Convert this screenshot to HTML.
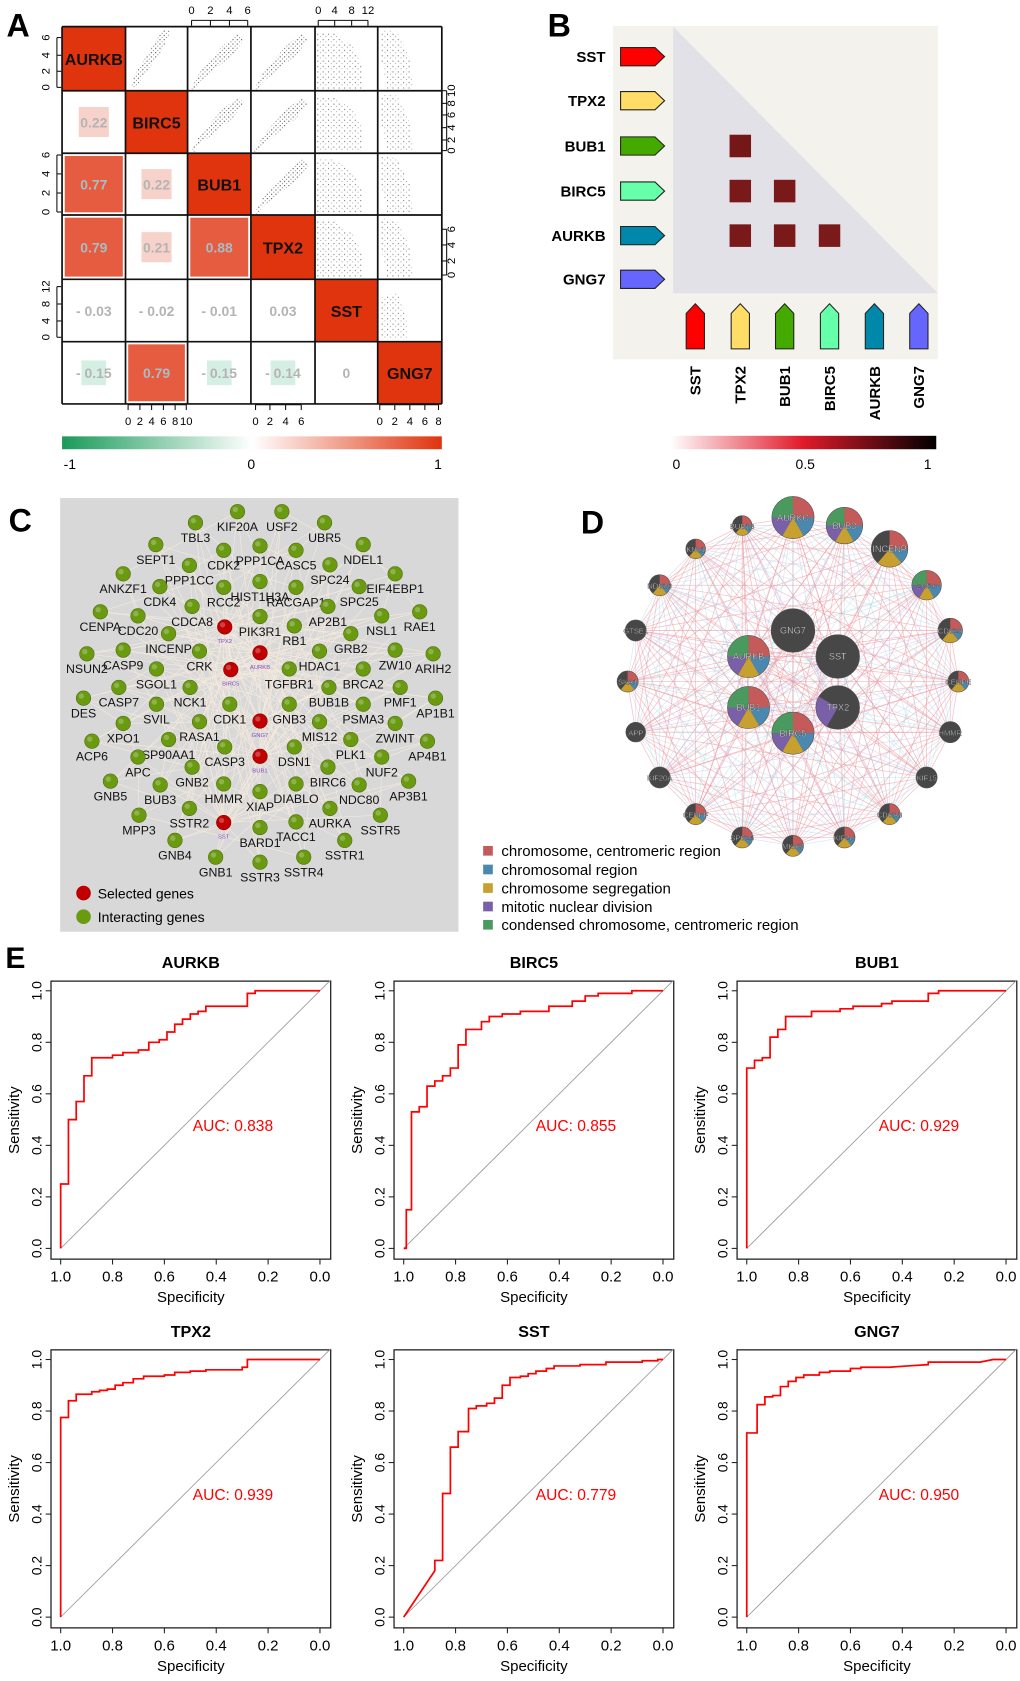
<!DOCTYPE html>
<html><head><meta charset="utf-8"><style>
html,body{margin:0;padding:0;background:#fff;}
svg{display:block;font-family:"Liberation Sans",sans-serif;}
.n{font-family:"Liberation Sans Narrow","Liberation Sans",sans-serif;}
</style></head><body>
<svg id="fig" xmlns="http://www.w3.org/2000/svg" width="1020" height="1681" viewBox="0 0 950 1566" preserveAspectRatio="none">
<defs>
<pattern id="dots" width="4" height="4" patternUnits="userSpaceOnUse"><circle cx="1" cy="1" r="0.55" fill="#222"/><circle cx="3" cy="3" r="0.45" fill="#333"/></pattern>
<pattern id="dotsL" width="5" height="5" patternUnits="userSpaceOnUse"><circle cx="1" cy="2" r="0.5" fill="#333"/><circle cx="3.5" cy="4" r="0.4" fill="#444"/></pattern>
<linearGradient id="gA" x1="0" x2="1"><stop offset="0" stop-color="#1a9a5a"/><stop offset="0.5" stop-color="#ffffff"/><stop offset="1" stop-color="#e0340e"/></linearGradient>
<linearGradient id="gB" x1="0" x2="1"><stop offset="0" stop-color="#ffffff"/><stop offset="0.5" stop-color="#e01a2a"/><stop offset="1" stop-color="#000000"/></linearGradient>
</defs>
<g id="A"></g>
<g id="B"></g>
<g id="C"></g>
<g id="D"></g>
<g id="E"></g>
</svg>
<script>
const NS='http://www.w3.org/2000/svg';
function mk(tag,attrs,parent,txt){const e=document.createElementNS(NS,tag);for(const k in attrs)e.setAttribute(k,attrs[k]);if(txt!==undefined)e.textContent=txt;parent.appendChild(e);return e;}

// ---------- Panel A data ----------
const genesA=['AURKB','BIRC5','BUB1','TPX2','SST','GNG7'];
const corrRows=[1,2,2,3,3,3,4,4,4,4,5,5,5,5,5];
const corrCols=[0,0,1,0,1,2,0,1,2,3,0,1,2,3,4];
const corrVals=[0.22,0.77,0.22,0.79,0.21,0.88,-0.03,-0.02,-0.01,0.03,-0.15,0.79,-0.15,-0.14,0];
// ---------- Panel B data ----------
const genesB=['SST','TPX2','BUB1','BIRC5','AURKB','GNG7'];
const colorsB=['#ff0000','#ffdd66','#44aa00','#66ffaa','#0088aa','#6666ff'];
const sigRows=[2,3,3,4,4,4];
const sigCols=[1,1,2,1,2,3];
const sigVals=[0.9,0.85,0.85,0.85,0.85,0.82];
// ---------- Panel E data ----------
const rocTitles=['AURKB','BIRC5','BUB1','TPX2','SST','GNG7'];
const rocAUC=['0.838','0.855','0.929','0.939','0.779','0.950'];
const aurkbSpec=[1,1,.97,.97,.94,.94,.91,.91,.88,.88,.80,.80,.76,.76,.70,.70,.66,.66,.62,.62,.59,.59,.56,.56,.53,.53,.50,.50,.47,.47,.44,.44,.28,.28,.25,.25,0];
const aurkbSens=[0,.25,.25,.50,.50,.57,.57,.67,.67,.74,.74,.75,.75,.76,.76,.77,.77,.80,.80,.81,.81,.84,.84,.87,.87,.89,.89,.91,.91,.92,.92,.94,.94,.99,.99,1,1];
const birc5Spec=[1,.99,.99,.97,.97,.94,.94,.91,.91,.88,.88,.85,.85,.82,.82,.79,.79,.76,.76,.70,.70,.67,.67,.62,.62,.55,.55,.44,.44,.35,.35,.30,.30,.25,.25,.12,.12,0];
const birc5Sens=[0,0,.15,.15,.53,.53,.55,.55,.63,.63,.65,.65,.67,.67,.70,.70,.79,.79,.85,.85,.88,.88,.90,.90,.91,.91,.92,.92,.94,.94,.96,.96,.98,.98,.99,.99,1,1];
const bub1Spec=[1,1,.97,.97,.94,.94,.91,.91,.88,.88,.85,.85,.75,.75,.64,.64,.59,.59,.48,.48,.44,.44,.30,.30,.26,.26,0];
const bub1Sens=[0,.70,.70,.73,.73,.74,.74,.82,.82,.85,.85,.90,.90,.92,.92,.93,.93,.94,.94,.95,.95,.96,.96,.99,.99,1,1];
const tpx2Spec=[1,1,.97,.97,.94,.94,.88,.88,.85,.85,.82,.82,.79,.79,.76,.76,.72,.72,.68,.68,.6,.6,.56,.56,.5,.5,.44,.44,.3,.3,.28,.28,0];
const tpx2Sens=[0,.775,.775,.84,.84,.865,.865,.875,.875,.88,.88,.885,.885,.90,.90,.91,.91,.925,.925,.935,.935,.94,.94,.95,.95,.955,.955,.96,.96,.97,.97,1,1];
const sstSpec=[1,.88,.88,.85,.85,.82,.82,.79,.79,.75,.75,.72,.72,.68,.68,.65,.65,.62,.62,.59,.59,.55,.55,.52,.52,.49,.49,.45,.45,.42,.42,.32,.32,.22,.22,.08,.08,.02,.02,0];
const sstSens=[0,.18,.22,.22,.48,.48,.66,.66,.72,.72,.81,.81,.82,.82,.83,.83,.85,.85,.90,.90,.93,.93,.935,.935,.945,.945,.955,.955,.965,.965,.975,.975,.98,.98,.99,.99,.995,.995,1,1];
const gng7Spec=[1,1,.96,.96,.93,.93,.9,.9,.87,.87,.84,.84,.81,.81,.78,.78,.72,.72,.68,.68,.6,.6,.56,.56,.45,.38,.3,.3,.1,.05,0];
const gng7Sens=[0,.715,.715,.825,.825,.855,.855,.86,.86,.895,.895,.915,.915,.93,.93,.94,.94,.95,.95,.955,.955,.965,.965,.97,.97,.975,.98,.99,.99,1,1];
const rocSpecs=[aurkbSpec,birc5Spec,bub1Spec,tpx2Spec,sstSpec,gng7Spec];
const rocSenss=[aurkbSens,birc5Sens,bub1Sens,tpx2Sens,sstSens,gng7Sens];
const rocTicks=[1.0,0.8,0.6,0.4,0.2,0.0];

const svg=document.getElementById('fig');
function panelLabel(g,t,x,y,size){const e=mk('text',{x:x,y:y,'font-size':size,'font-weight':'bold'},g,t);

}

// ================= Panel A =================
(function(){
const g=document.getElementById('A');
panelLabel(g,'A',6,34,30);
const xs=[57.8,116.9,174.7,233.7,293.4,351.8,411.5];
const ys=[24.8,84.5,142.8,200.3,260.2,318.3,376.3];
// cells bg
for(let r=0;r<6;r++)for(let c=0;c<6;c++){
 const x0=xs[c],y0=ys[r],w=xs[c+1]-xs[c],h=ys[r+1]-ys[r];
 if(r===c){const rc=mk('rect',{x:x0,y:y0,width:w,height:h,fill:'#e0340e'},g);
  
  
  const t=mk('text',{x:x0+w/2,y:y0+h/2+6,'text-anchor':'middle','font-size':15,'font-weight':'bold',fill:'#111'},g,genesA[r]);
  
  
 } else if(c>r){
  // scatter texture
  let pts;
  if(c<=3){ if(r===0&&c===1) pts=[[.08,.98],[.15,.75],[.5,.2],[.62,.03],[.72,.08],[.6,.35],[.2,.9]];
   else pts=[[.05,.98],[.2,.7],[.55,.3],[.8,.1],[.9,.2],[.7,.45],[.2,.85],[.1,.98]]; }
  else if(c===4) pts=[[.02,.08],[.3,.1],[.6,.3],[.75,.6],[.75,.97],[.02,.97]];
  else pts=(r===4)?[[.05,.3],[.3,.2],[.45,.6],[.45,.97],[.05,.97]]:[[.05,.05],[.3,.08],[.5,.5],[.55,.97],[.15,.97],[.05,.5]];
  const poly=mk('polygon',{points:pts.map(p=>(x0+p[0]*w)+','+(y0+p[1]*h)).join(' '),fill:c>=4?'url(#dotsL)':'url(#dots)',opacity:0.85},g);
  
  
 }
}
// correlation values
for(let i=0;i<corrVals.length;i++){
 const r=corrRows[i],c=corrCols[i],v=corrVals[i];
 const x0=xs[c],y0=ys[r],w=xs[c+1]-xs[c],h=ys[r+1]-ys[r],cx=x0+w/2,cy=y0+h/2;
 const a=Math.abs(v);
 if(a>=0.1){
  const sz=a>0.5?w-5:(a>=0.2?28:23);
  const col=v>0?(a>0.5?'#e55c40':'#f7d2ca'):'#d6efe4';
  const rc=mk('rect',{x:cx-sz/2,y:cy-(a>0.5?h-5:sz)/2,width:sz,height:a>0.5?h-5:sz,fill:col},g);
  
  
 }
 const lab=(v<0?'- ':'')+(v===0?'0':Math.abs(v).toFixed(2));
 const t=mk('text',{x:cx,y:cy+5,'text-anchor':'middle','font-size':13,'font-weight':'bold',fill:a>0.5?'#a9bcc4':'#b4b4b4'},g,lab);
 
 
}
// grid lines
for(const x of xs){mk('line',{x1:x,y1:ys[0],x2:x,y2:ys[6],stroke:'#111','stroke-width':1.6},g);}
for(const y of ys){mk('line',{x1:xs[0],y1:y,x2:xs[6],y2:y,stroke:'#111','stroke-width':1.6},g);}
// axes ticks
function vt(labels,ysP,side,row){const xl=side==='L'?53:416;const ax=mk('g',{},g);
 
 mk('line',{x1:xl,y1:ysP[0],x2:xl,y2:ysP[ysP.length-1],stroke:'#111','stroke-width':1},ax);
 labels.forEach((l,i)=>{const y=ysP[i];mk('line',{x1:xl,y1:y,x2:side==='L'?xl+4:xl-4,y2:y,stroke:'#111'},ax);
  mk('text',{x:0,y:0,transform:`translate(${side==='L'?46:424},${y}) rotate(-90)`,'text-anchor':'middle','font-size':10.5,'class':'n'},ax,l);});}
vt(['0','2','4','6'],[81.4,66.4,51.5,35],'L',1);
vt(['0','2','4','6'],[197.5,179.8,162,144.4],'L',3);
vt(['0','4','8','12'],[314.2,299,283.2,267],'L',5);
vt(['0','2','4','6','8','10'],[140.3,130.4,118.9,107.1,96.3,84.5],'R',2);
vt(['0','2','4','6'],[256.2,243.1,228.2,213.6],'R',4);
function ht(labels,xsP,side,col){const yl=side==='T'?19:377;const ax=mk('g',{},g);
 
 mk('line',{x1:xsP[0],y1:yl,x2:xsP[xsP.length-1],y2:yl,stroke:'#111'},ax);
 labels.forEach((l,i)=>{const x=xsP[i];mk('line',{x1:x,y1:yl,x2:x,y2:side==='T'?yl+5:yl+5,stroke:'#111'},ax);
  mk('text',{x:x,y:side==='T'?13:396,'text-anchor':'middle','font-size':10.5,'class':'n'},ax,l);});}
ht(['0','2','4','6'],[178.4,196,213.7,230.7],'T',3);
ht(['0','4','8','12'],[296.4,311.7,327.5,342.7],'T',5);
ht(['0','2','4','6','8','10'],[119.3,130.3,141.2,152.2,163.1,173.5],'B',2);
ht(['0','2','4','6'],[238,251.4,266,280.6],'B',4);
ht(['0','2','4','6','8'],[353.7,367.7,381.7,395.7,408.4],'B',6);
const cb=mk('rect',{x:57.8,y:406.5,width:353.7,height:12,fill:'url(#gA)'},g);

[['-1',65],['0',234],['1',408]].forEach(p=>{const t=mk('text',{x:p[1],y:437,'text-anchor':'middle','font-size':13,'class':'n'},g,p[0]);
 });
})();

// ================= Panel B =================
(function(){
const g=document.getElementById('B');
panelLabel(g,'B',510,34,30);
const bg=mk('rect',{x:571,y:24.2,width:302.5,height:310.5,fill:'#f4f2ed'},g);

const tri=mk('polygon',{points:'627,24.8 873.5,273.2 627,273.2',fill:'#e3e1e8'},g);

const rowY=[52.8,93.8,136,178,219.5,260.2];
const colX=[647.6,689.5,730.8,772.6,814.4,855.8];
genesB.forEach((n,i)=>{
 const y=rowY[i];
 const t=mk('text',{x:564,y:y+5,'text-anchor':'end','font-size':14,'font-weight':'bold','class':'n'},g,n);
 
 const a=mk('polygon',{points:`578,${y-8.5} 610,${y-8.5} 619,${y} 610,${y+8.5} 578,${y+8.5}`,fill:colorsB[i],stroke:'#222','stroke-width':1},g);
 
 const x=colX[i];
 const b=mk('polygon',{points:`${x-8.5},325 ${x-8.5},292 ${x},283 ${x+8.5},292 ${x+8.5},325`,fill:colorsB[i],stroke:'#222','stroke-width':1},g);
 
 const ct=mk('text',{x:0,y:0,transform:`translate(${x+5},341) rotate(-90)`,'text-anchor':'end','font-size':14,'font-weight':'bold'},g,n);
 
});
const cellW=colX[1]-colX[0];
sigVals.forEach((v,i)=>{
 const cx=colX[sigCols[i]],cy=rowY[sigRows[i]];
 const shade=Math.round(255*(1-v)*0.9);
 const s=mk('rect',{x:cx-10,y:cy-10.5,width:20,height:21,fill:`rgb(${110+shade/3|0},${20+shade/6|0},${20+shade/6|0})`},g);
 
 
});
const cb=mk('rect',{x:624,y:406,width:248,height:12.5,fill:'url(#gB)'},g);

[['0',630],['0.5',750],['1',864]].forEach(p=>{const t=mk('text',{x:p[1],y:437,'text-anchor':'middle','font-size':13,'class':'n'},g,p[0]);
 });
})();

// ================= Panel C =================
(function(){
const g=document.getElementById('C');
panelLabel(g,'C',8,495,30);
const bx=mk('rect',{x:56,y:464,width:371,height:404,fill:'#d8d8d8'},g);

const nodes=[['KIF20A',528,50],['USF2',660,50],['TBL3',403,83],['UBR5',787,83],['SEPT1',285,148],['CDK2',487,165],['PPP1CA',595,152],['CASC5',702,165],['NDEL1',902,148],['PPP1CC',385,210],['SPC24',803,208],['ANKZF1',188,235],['EIF4EBP1',997,235],['HIST1H3A',595,258],['RCC2',487,275],['RACGAP1',702,275],['CDK4',297,273],['SPC25',890,273],['CENPA',120,348],['RAE1',1070,348],['CDCA8',393,332],['AP2B1',797,332],['CDC20',232,360],['NSL1',957,360],['TPX2',490,393,1],['PIK3R1',595,362],['RB1',697,390],['AURKB',595,470,1],['INCENP',323,413],['GRB2',865,413],['NSUN2',80,473],['ARIH2',1110,473],['CASP9',188,462],['ZW10',997,462],['CRK',415,465],['HDAC1',772,465],['BIRC5',508,520,1],['TGFBR1',682,518],['SGOL1',287,518],['BRCA2',902,518],['DES',70,605],['AP1B1',1117,605],['CASP7',175,573],['PMF1',1012,573],['NCK1',387,573],['BUB1B',800,573],['SVIL',287,623],['PSMA3',902,623],['CDK1',505,623],['GNB3',682,623],['GNG7',595,673,1],['XPO1',188,680],['ZWINT',997,680],['RASA1',415,675],['MIS12',772,675],['ACP6',95,733],['AP4B1',1093,733],['SP90AA1',323,728],['PLK1',865,728],['CASP3',490,750],['DSN1',697,750],['BUB1',595,778,1],['APC',232,780],['NUF2',957,780],['GNB5',150,852],['AP3B1',1037,852],['GNB2',393,810],['BIRC6',797,810],['BUB3',298,863],['NDC80',890,863],['HMMR',487,860],['DIABLO',702,860],['XIAP',595,883],['MPP3',235,953],['SSTR5',953,953],['SSTR2',385,933],['AURKA',803,933],['SST',487,975,1],['BARD1',595,990],['TACC1',702,973],['GNB4',342,1028],['SSTR1',847,1028],['GNB1',463,1078],['SSTR3',595,1093],['SSTR4',725,1078]];
const px=z=>55.88+z*0.3131, py=z=>461.0+z*0.3131;
const sel=nodes.filter(n=>n[3]);
const eg=mk('g',{stroke:'#fbeede','stroke-width':0.6,opacity:0.8},g);

nodes.forEach((n,i)=>{if(n[3])return;const s1=sel[i%6],s2=sel[(i*7+3)%6];
 mk('line',{x1:px(n[1]),y1:py(n[2]),x2:px(s1[1]),y2:py(s1[2])},eg);
 mk('line',{x1:px(n[1]),y1:py(n[2]),x2:px(s2[1]),y2:py(s2[2])},eg);
 const n2=nodes[(i+11)%nodes.length];mk('line',{x1:px(n[1]),y1:py(n[2]),x2:px(n2[1]),y2:py(n2[2])},eg);});
nodes.forEach(n=>{
 const x=px(n[1]),y=py(n[2]);
 const c=mk('circle',{cx:x,cy:y,r:6.8,fill:n[3]?'#c00000':'#6a9a10',stroke:n[3]?'#800':'#4a6a08','stroke-width':0.5},g);
 
 mk('circle',{cx:x-2,cy:y-2,r:2.5,fill:'#fff',opacity:0.25},g);
 const t=mk('text',{x:x,y:n[3]?y+15:y+18,'text-anchor':'middle','font-size':n[3]?5.5:11.5,fill:n[3]?'#8a4cc0':'#111'},g,n[0]);
 
});
[['Selected genes','#c00000',832],['Interacting genes','#6a9a10',854]].forEach(p=>{
 const c=mk('circle',{cx:77.8,cy:p[2],r:6.8,fill:p[1]},g);
 
 const t=mk('text',{x:91,y:p[2]+5,'font-size':13},g,p[0]);
 
});
})();

// ================= Panel D =================
(function(){
const g=document.getElementById('D');
panelLabel(g,'D',541,497,30);
const px=z=>(470+z/2.836)/1.0737, py=z=>(480+z/3)/1.0737;
const nd=[['AURKC',916,113,60,'p'],['BUB3',1062,137,52,'p'],['INCENP',1190,207,52,'h'],['ZW10',1295,316,42,'p'],['CDC20',1362,452,35,'h'],['CENPE',1385,605,30,'h'],['HMMR',1362,757,30,'d'],['KIF15',1295,893,30,'d'],['CDCA8',1190,1003,30,'h'],['KIF2C',1062,1073,30,'h'],['MKI67',916,1098,30,'h'],['SPC25',772,1073,30,'h'],['CENPF',640,1003,30,'h'],['KIF20A',538,893,30,'d'],['APP',470,757,28,'d'],['SKA1',447,605,30,'h'],['GTSE1',470,452,30,'d'],['NDC80',538,316,30,'h'],['KNL1',640,207,28,'h'],['BUB1B',772,137,28,'h'],['GNG7',916,452,62,'d'],['SST',1043,530,62,'d'],['AURKB',790,530,60,'p'],['BUB1',790,683,60,'p'],['TPX2',1043,683,62,'t'],['BIRC5',916,760,60,'p']];
const eg=mk('g',{'stroke-width':0.7},g);

for(let i=0;i<nd.length;i++)for(let j=i+1;j<nd.length;j++){
 const k=(i*5+j*3)%7;
 mk('line',{x1:px(nd[i][1]),y1:py(nd[i][2]),x2:px(nd[j][1]),y2:py(nd[j][2]),stroke:k<4?'#eb8f98':(k<6?'#9fd0e0':'#c7a8e0'),opacity:k<4?0.55:0.4},eg);}
function slice(cx,cy,r,a0,a1,col,parent){const rad=a=>(a-90)*Math.PI/180;
 const x0=cx+r*Math.cos(rad(a0)),y0=cy+r*Math.sin(rad(a0)),x1=cx+r*Math.cos(rad(a1)),y1=cy+r*Math.sin(rad(a1));
 mk('path',{d:`M${cx},${cy} L${x0},${y0} A${r},${r} 0 ${a1-a0>180?1:0} 1 ${x1},${y1} Z`,fill:col},parent);}
nd.forEach(n=>{
 const x=px(n[1]),y=py(n[2]),r=n[3]/2.836/1.0737;
 const ng=mk('g',{},g);
 
 mk('circle',{cx:x,cy:y,r:r,fill:'#474747'},ng);
 if(n[4]==='p'){slice(x,y,r,0,90,'#c45a5a',ng);slice(x,y,r,90,150,'#4a88b0',ng);slice(x,y,r,150,210,'#c8a030',ng);slice(x,y,r,210,270,'#7a60a8',ng);slice(x,y,r,270,360,'#4a9a60',ng);}
 else if(n[4]==='h'){slice(x,y,r,0,90,'#c45a5a',ng);slice(x,y,r,90,140,'#4a88b0',ng);slice(x,y,r,140,220,'#c8a030',ng);}
 else if(n[4]==='t'){slice(x,y,r,210,300,'#7a60a8',ng);}
 mk('circle',{cx:x,cy:y,r:r,fill:'none',stroke:'#555','stroke-width':0.5},ng);
 const t=mk('text',{x:x,y:y+3,'text-anchor':'middle','font-size':r>15?8.5:7,fill:'#fff',stroke:'#333','stroke-width':0.3},ng,n[0]);
});
const leg=['chromosome, centromeric region','chromosomal region','chromosome segregation','mitotic nuclear division','condensed chromosome, centromeric region'];
const lc=['#c45a5a','#4a88b0','#c8a030','#7a60a8','#4a9a60'];
const ly=[792.6,810,827.3,844.5,861.5];
leg.forEach((l,i)=>{const r=mk('rect',{x:450,y:ly[i]-4.5,width:9,height:9,fill:lc[i]},g);
 
 const t=mk('text',{x:467,y:ly[i]+5,'font-size':14},g,l);
 });
})();

// ================= Panel E =================
(function(){
const g=document.getElementById('E');
panelLabel(g,'E',5,902,28);
for(let p=0;p<6;p++){
 const c=p%3,r=Math.floor(p/3);
 const L=47.5+319.5*c, T=914+343.5*r, R=L+260.5, B=T+259;
 const xS=s=>L+9+(1-s)*241.5;
 const yS=v=>B-10-v*240;
 const pg=mk('g',{},g);
 
 const tt=mk('text',{x:(L+R)/2,y:T-12,'text-anchor':'middle','font-size':15,'font-weight':'bold','class':'n'},pg,rocTitles[p]);
 
 mk('rect',{x:L,y:T,width:R-L,height:B-T,fill:'none',stroke:'#222','stroke-width':1.2},pg);
 mk('line',{x1:xS(1),y1:yS(0),x2:R,y2:yS(1)+ (xS(0)-R)*240/241.5,stroke:'#999','stroke-width':0.8},pg);
 rocTicks.forEach(v=>{
  mk('line',{x1:xS(v),y1:B,x2:xS(v),y2:B+5,stroke:'#222'},pg);
  mk('text',{x:xS(v),y:B+21,'text-anchor':'middle','font-size':14,'class':'n'},pg,v.toFixed(1));
  mk('line',{x1:L,y1:yS(v),x2:L-5,y2:yS(v),stroke:'#222'},pg);
  mk('text',{x:0,y:0,transform:`translate(${L-9},${yS(v)}) rotate(-90)`,'text-anchor':'middle','font-size':13},pg,v.toFixed(1));
 });
 mk('text',{x:(L+R)/2,y:B+40,'text-anchor':'middle','font-size':14,'class':'n'},pg,'Specificity');
 mk('text',{x:0,y:0,transform:`translate(${L-30},${(T+B)/2}) rotate(-90)`,'text-anchor':'middle','font-size':14},pg,'Sensitivity');
 const pts=rocSpecs[p].map((s,i)=>xS(s)+','+yS(rocSenss[p][i])).join(' ');
 const line=mk('polyline',{points:pts,fill:'none',stroke:'#ff0000','stroke-width':1.6},pg);
 
 const a=mk('text',{x:L+132,y:yS(0.455),'font-size':14.5,fill:'#ff0000','class':'n'},pg,'AUC: '+rocAUC[p]);
 
}
})();
</script>
</body></html>
